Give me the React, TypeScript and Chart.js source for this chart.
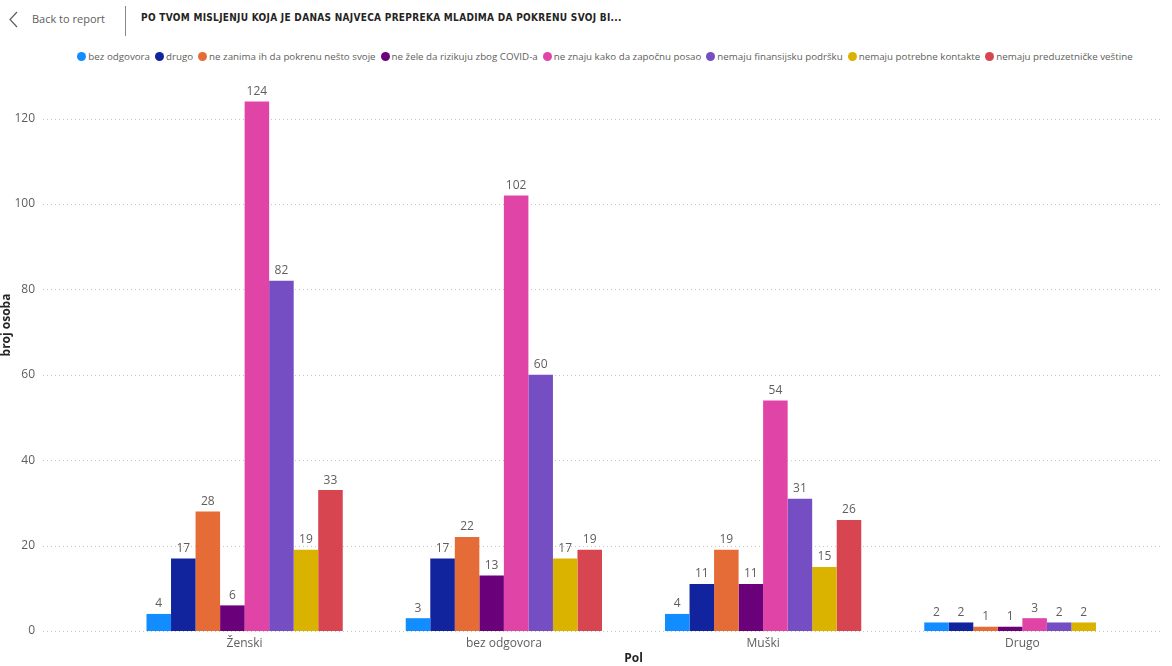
import React, { useEffect, useRef } from "react";
import { Chart, registerables } from "chart.js";

Chart.register(...registerables);

const categories = ["Ženski", "bez odgovora", "Muški", "Drugo"];
const seriesNames = [
  "bez odgovora",
  "drugo",
  "ne zanima ih da pokrenu nešto svoje",
  "ne žele da rizikuju zbog COVID-a",
  "ne znaju kako da započnu posao",
  "nemaju finansijsku podršku",
  "nemaju potrebne kontakte",
  "nemaju preduzetničke veštine",
];
const bezOdgovora = [4, 3, 4, 2];
const drugo = [17, 17, 11, 2];
const neZanima = [28, 22, 19, 1];
const neZele = [6, 13, 11, 1];
const neZnaju = [124, 102, 54, 3];
const finansijsku = [82, 60, 31, 2];
const kontakte = [19, 17, 15, 2];
const vestine = [33, 19, 26, null];
const seriesValues = [bezOdgovora, drugo, neZanima, neZele, neZnaju, finansijsku, kontakte, vestine];
const colors = ["#118DFF", "#12239E", "#E66C37", "#6B007B", "#E044A7", "#744EC2", "#D9B300", "#D64550"];
const yTickValues = [0, 20, 40, 60, 80, 100, 120];

const FONT = "'Open Sans', 'Noto Sans', sans-serif";

const extrasPlugin = {
  id: "extras",
  beforeDatasetsDraw(chart: any) {
    const { ctx, scales } = chart;
    const y = scales.y;
    ctx.save();
    ctx.strokeStyle = "#C8C6C4";
    ctx.lineWidth = 1;
    ctx.setLineDash([1, 3]);
    for (const v of yTickValues) {
      const py = Math.round(y.getPixelForValue(v)) + 0.5;
      ctx.beginPath();
      ctx.moveTo(43, py);
      ctx.lineTo(1162, py);
      ctx.stroke();
    }
    ctx.restore();
  },
  afterDatasetsDraw(chart: any) {
    const { ctx } = chart;
    ctx.save();
    ctx.font = `12px ${FONT}`;
    ctx.fillStyle = "#605E5C";
    ctx.textAlign = "center";
    ctx.textBaseline = "bottom";
    chart.data.datasets.forEach((ds: any, i: number) => {
      const meta = chart.getDatasetMeta(i);
      meta.data.forEach((bar: any, j: number) => {
        const v = ds.data[j];
        if (v === null || v === undefined) return;
        ctx.fillText(String(v), bar.x, bar.y - 4);
      });
    });
    // y axis title
    ctx.translate(7, 255);
    ctx.rotate(-Math.PI / 2);
    ctx.font = `bold 12px ${FONT}`;
    ctx.fillStyle = "#252423";
    ctx.textBaseline = "middle";
    ctx.fillText("broj osoba", 0, 0);
    ctx.restore();
  },
};

function Legend() {
  return (
    <div
      style={{
        position: "absolute",
        top: 50,
        left: 0,
        width: 1172,
        display: "flex",
        justifyContent: "center",
        paddingLeft: 43,
        boxSizing: "border-box",
        fontFamily: FONT,
        fontSize: 9.75,
        color: "#605E5C",
        whiteSpace: "nowrap",
      }}
    >
      {seriesNames.map((n, i) => (
        <div key={n} style={{ display: "flex", alignItems: "center", marginRight: 5 }}>
          <span
            style={{
              display: "inline-block",
              width: 9,
              height: 9,
              borderRadius: "50%",
              background: colors[i],
              marginRight: 2,
            }}
          />
          <span>{n}</span>
        </div>
      ))}
    </div>
  );
}

export default function App() {
  const canvasRef = useRef<HTMLCanvasElement | null>(null);

  useEffect(() => {
    if (!canvasRef.current) return;
    const chart = new Chart(canvasRef.current, {
      type: "bar",
      data: {
        labels: categories,
        datasets: seriesNames.map((name, i) => ({
          label: name,
          data: seriesValues[i],
          backgroundColor: colors[i],
          borderWidth: 0,
          categoryPercentage: 0.757,
          barPercentage: 1,
        })),
      },
      options: {
        responsive: false,
        animation: false,
        devicePixelRatio: 1,
        layout: { padding: { top: 23, right: 20, bottom: 0, left: 0 } },
        plugins: {
          legend: { display: false },
          tooltip: { enabled: false },
        },
        scales: {
          x: {
            grid: { display: false, drawTicks: false },
            border: { display: false },
            ticks: { color: "#605E5C", font: { family: FONT, size: 12 }, padding: 5, maxRotation: 0 },
            title: {
              display: true,
              text: "Pol",
              color: "#252423",
              font: { family: FONT, size: 12, weight: "bold" },
              padding: { top: 0, bottom: 0 },
            },
            afterFit: (scale: any) => {
              scale.height = 35;
              scale.paddingTop = 0;
              scale.paddingBottom = 0;
            },
          },
          y: {
            min: 0,
            max: 126,
            grid: { display: false, drawTicks: false },
            border: { display: false },
            ticks: {
              stepSize: 20,
              color: "#605E5C",
              font: { family: FONT, size: 12 },
              padding: 80,
            },
            afterBuildTicks: (scale: any) => {
              scale.ticks = yTickValues.map((v) => ({ value: v }));
            },
            afterFit: (scale: any) => {
              scale.width = 115;
              scale.paddingTop = 0;
              scale.paddingBottom = 0;
            },
          },
        },
      },
      plugins: [extrasPlugin],
    });
    return () => chart.destroy();
  }, []);

  return (
    <div style={{ position: "fixed", inset: 0, background: "#fff", fontFamily: FONT }}>
      <svg style={{ position: "absolute", left: 8, top: 11 }} width={12} height={18}>
        <polyline points="9,1 2,8.5 9,16" fill="none" stroke="#605E5C" strokeWidth={1.2} />
      </svg>
      <div style={{ position: "absolute", left: 32, top: 11, fontSize: 11, color: "#605E5C" }}>Back to report</div>
      <div style={{ position: "absolute", left: 125, top: 6, width: 1, height: 30, background: "#8A8886" }} />
      <div
        style={{
          position: "absolute",
          left: 141,
          top: 12,
          fontFamily: "'DejaVu Sans Condensed', 'DejaVu Sans', sans-serif",
          fontWeight: "bold",
          fontSize: 10,
          letterSpacing: 0.3,
          color: "#252423",
          whiteSpace: "nowrap",
        }}
      >
        PO TVOM MISLJENJU KOJA JE DANAS NAJVECA PREPREKA MLADIMA DA POKRENU SVOJ BI...
      </div>
      <Legend />
      <canvas
        ref={canvasRef}
        width={1172}
        height={596}
        style={{ position: "absolute", left: 0, top: 70, width: 1172, height: 596 }}
      />
    </div>
  );
}
